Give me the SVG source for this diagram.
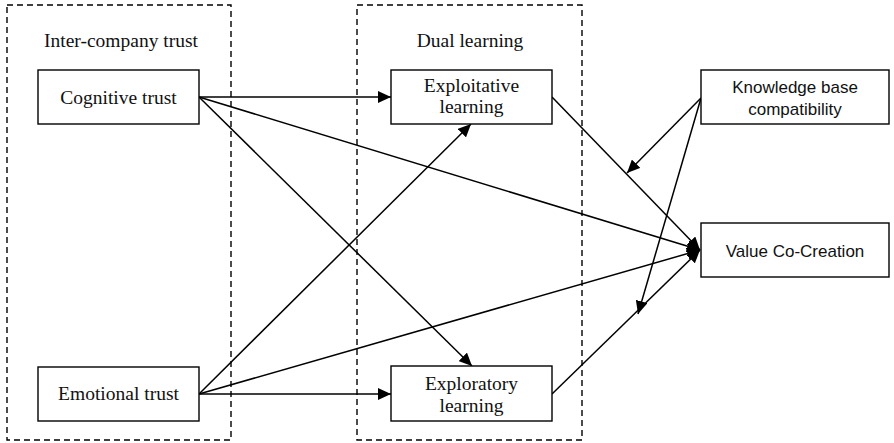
<svg xmlns="http://www.w3.org/2000/svg" width="894" height="443" viewBox="0 0 894 443">
<style>
.grp{fill:none;stroke:#000;stroke-width:1.4;stroke-dasharray:6 4}
.box{fill:#fff;stroke:#000;stroke-width:1.4}
.serif{font-family:"Liberation Serif","Times New Roman",serif;font-size:19.5px;fill:#111;text-anchor:middle}
.sans{font-family:"Liberation Sans",Arial,sans-serif;font-size:17px;fill:#111;text-anchor:middle}
.c{fill:none;stroke:#000;stroke-width:1.5;marker-end:url(#ah)}
</style>
<defs>
<marker id="ah" markerUnits="userSpaceOnUse" markerWidth="14" markerHeight="12" refX="13" refY="6" orient="auto">
<path d="M0,0 L13,6 L0,12 z" fill="#000"/>
</marker>
</defs>
<g id="group-trust">
<rect class="grp" x="7" y="5" width="224" height="435"/>
<text class="serif" x="121" y="47">Inter-company trust</text>
</g>
<g id="group-dual">
<rect class="grp" x="357" y="5" width="225" height="435"/>
<text class="serif" x="470" y="47">Dual learning</text>
</g>
<g id="connectors">
<line class="c" x1="199" y1="97" x2="391" y2="97"/>
<line class="c" x1="199" y1="97" x2="700" y2="250"/>
<line class="c" x1="199" y1="97" x2="472" y2="366"/>
<line class="c" x1="199" y1="394" x2="471" y2="124"/>
<line class="c" x1="199" y1="394" x2="700" y2="250"/>
<line class="c" x1="199" y1="394" x2="391" y2="394"/>
<line class="c" x1="552" y1="97" x2="700" y2="250"/>
<line class="c" x1="552" y1="394" x2="700" y2="250"/>
<line class="c" x1="701" y1="98" x2="627" y2="173"/>
<line class="c" x1="701" y1="98" x2="638" y2="314"/>
</g>
<g id="cognitive-trust">
<rect class="box" x="38" y="70" width="161" height="54"/>
<text class="serif" x="118.5" y="104">Cognitive trust</text>
</g>
<g id="emotional-trust">
<rect class="box" x="38" y="367" width="161" height="54"/>
<text class="serif" x="118.5" y="400">Emotional trust</text>
</g>
<g id="exploitative-learning">
<rect class="box" x="391" y="70" width="161" height="54"/>
<text class="serif" x="471.5" y="92">Exploitative</text>
<text class="serif" x="471.5" y="113">learning</text>
</g>
<g id="exploratory-learning">
<rect class="box" x="391" y="366" width="161" height="55"/>
<text class="serif" x="471.5" y="390">Exploratory</text>
<text class="serif" x="471.5" y="412">learning</text>
</g>
<g id="knowledge-base">
<rect class="box" x="701" y="70" width="188" height="54"/>
<text class="sans" x="795" y="93">Knowledge base</text>
<text class="sans" x="795" y="115">compatibility</text>
</g>
<g id="value-co-creation">
<rect class="box" x="701" y="223" width="188" height="54"/>
<text class="sans" x="795" y="257">Value Co-Creation</text>
</g>
</svg>
